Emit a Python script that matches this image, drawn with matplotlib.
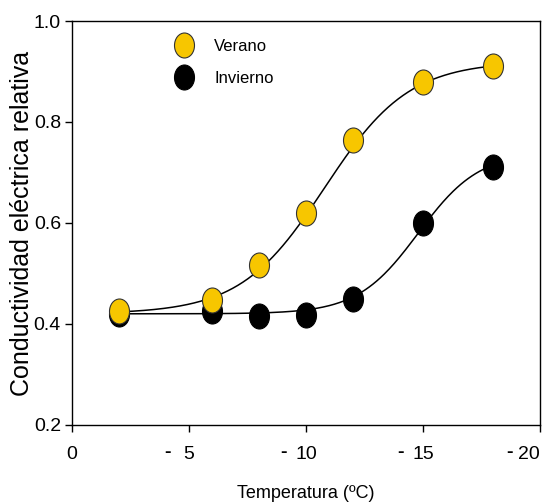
import numpy as np
import matplotlib.pyplot as plt
from matplotlib.path import Path
from matplotlib.transforms import Affine2D, blended_transform_factory, offset_copy

plt.rcParams['font.family'] = ['Liberation Sans', 'DejaVu Sans']

# Data
temp = [2, 6, 8, 10, 12, 15, 18]
verano = [0.426, 0.447, 0.517, 0.620, 0.764, 0.879, 0.911]
invierno = [0.420, 0.426, 0.416, 0.418, 0.449, 0.600, 0.711]

# Sigmoid fit parameters (base, amplitude, midpoint, slope) estimated from the curves
fit_verano = [0.42, 0.50, 10.8, 1.8]
fit_invierno = [0.42, 0.32, 14.8, 1.3]

xticks = [0, 5, 10, 15, 20]
xticklabels = ['0', '5', '10', '15', '20']
yticks = [0.2, 0.4, 0.6, 0.8, 1.0]


def sigmoid(x, p):
    a, b, x0, c = p
    return a + b / (1 + np.exp(-(x - x0) / c))


# slightly tall ellipse marker, as in the original
ellipse = Path.unit_circle().transformed(Affine2D().scale(0.8, 1.0))

fig = plt.figure(figsize=(5.51, 5.04), dpi=100)
ax = fig.add_axes([0.1307, 0.157, 0.8493, 0.8013])

xs = np.linspace(temp[0], temp[-1], 300)
ax.plot(xs, sigmoid(xs, fit_verano), color='black', lw=1.1, zorder=2)
ax.plot(xs, sigmoid(xs, fit_invierno), color='black', lw=1.1, zorder=2)

ax.plot(temp, invierno, ls='none', marker=ellipse, ms=18, mfc='black',
        mec='black', mew=0.8, label='Invierno', zorder=3)
ax.plot(temp, verano, ls='none', marker=ellipse, ms=18, mfc='#F7C600',
        mec='#333333', mew=0.8, label='Verano', zorder=4)

ax.set_xlim(0, 20)
ax.set_ylim(0.2, 1.0)
ax.set_xticks(xticks)
ax.set_xticklabels(xticklabels)
ax.set_yticks(yticks)
ax.set_yticklabels([f'{v:.1f}' for v in yticks])
ax.tick_params(direction='out', length=5, width=1, labelsize=14, pad=10)
ax.tick_params(axis='y', pad=3)
for s in ax.spines.values():
    s.set_linewidth(1)

# last label kept inside the figure
ax.get_xticklabels()[-1].set_horizontalalignment('right')

# the minus signs sit apart from the numbers, as in the original
trans = blended_transform_factory(ax.transData, ax.transAxes)
for t in xticks[1:]:
    off = -30 if t == xticks[-1] else -22
    ax.text(t, 0, '-', fontsize=14, fontweight='bold', ha='center', va='center',
            transform=offset_copy(trans, fig=fig, x=off, y=-28, units='dots'))

ax.set_xlabel('Temperatura (ºC)', fontsize=13, labelpad=16)
ax.set_ylabel('Conductividad eléctrica relativa', fontsize=18)
ax.yaxis.set_label_coords(-0.081, 0.5)

handles, labels = ax.get_legend_handles_labels()
ax.legend(handles[::-1], labels[::-1], loc='upper left', bbox_to_anchor=(0.19, 0.992),
          frameon=False, fontsize=12, labelspacing=1.0, handletextpad=1.3,
          handlelength=1.0)

fig.savefig('out.png', dpi=100)
